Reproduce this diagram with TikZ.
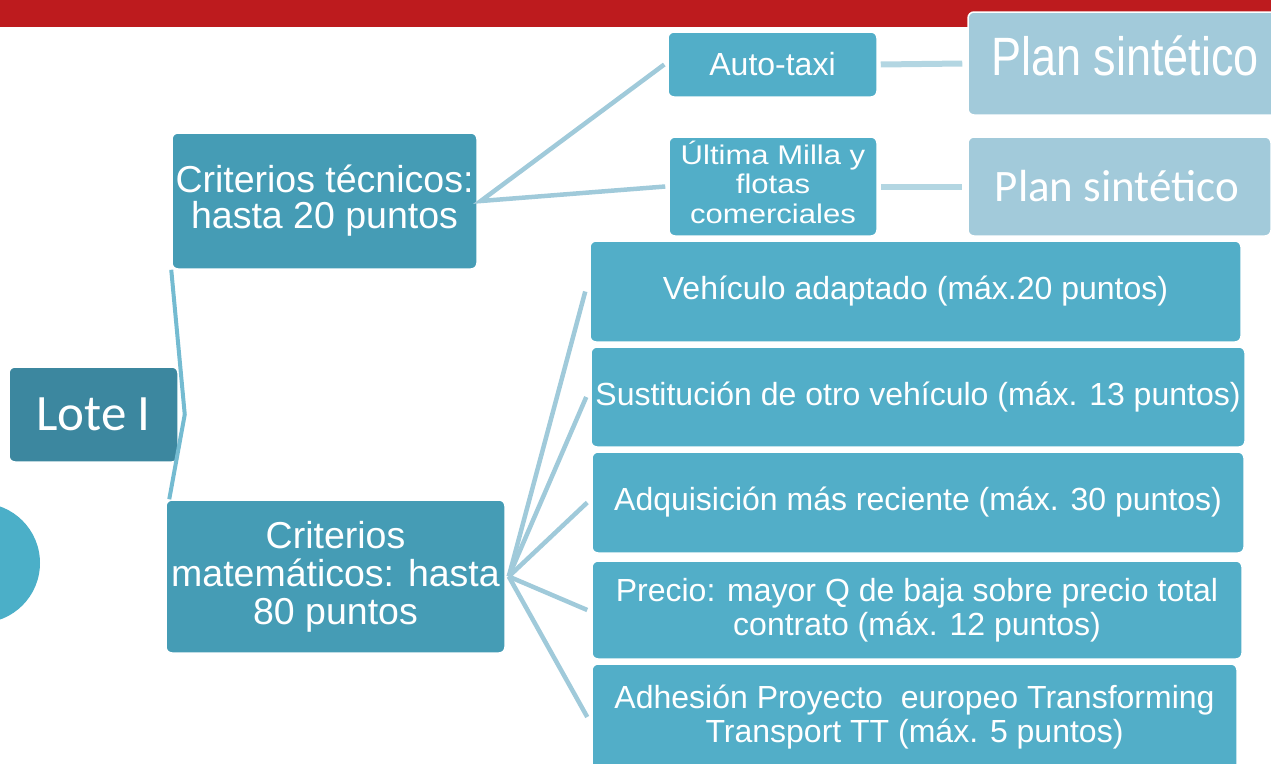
\documentclass[tikz,border=0pt]{standalone}
\usepackage{fontspec}
\usepackage{graphicx}
\setmainfont{Liberation Sans}
\newfontfamily\calfont{Carlito}
\definecolor{barred}{HTML}{BD1B1E}
\definecolor{lotec}{HTML}{3C879F}
\definecolor{critc}{HTML}{459CB5}
\definecolor{leafc}{HTML}{52AEC8}
\definecolor{planc}{HTML}{A2CADA}
\definecolor{circc}{HTML}{4BAFC8}
\definecolor{linea}{HTML}{74BBD1}
\definecolor{lineb}{HTML}{A0CADA}
\definecolor{linec}{HTML}{B3D6E2}
\newcommand{\mlines}[3]{\scalebox{#1}[#2]{\begin{tabular}{@{}c@{}}#3\end{tabular}}}
\begin{document}
\begin{tikzpicture}[x=1pt,y=-1pt,
  box/.style={draw=white, line width=1.5pt, rounded corners=6pt, text=white, inner sep=0pt, align=center},
  lotebox/.style={box, fill=lotec, font=\calfont\fontsize{51}{55}\selectfont},
  critbox/.style={box, fill=critc, font=\fontsize{37.5}{36}\selectfont},
  midbox/.style={box, fill=leafc, font=\fontsize{27}{29.5}\selectfont},
  leafbox/.style={box, fill=leafc, font=\fontsize{32}{34}\selectfont},
  planbox/.style={box, fill=planc},
  conA/.style={draw=linea, line width=4pt},
  conB/.style={draw=lineb, line width=4.5pt},
  conC/.style={draw=linec, line width=6pt}]
\useasboundingbox (0,0) rectangle (1271,763);
\begin{scope}
\clip (0,0) rectangle (1271,763);
% top bar
\fill[barred] (0,0) rectangle (1271,27);
% decorative circle at left
\fill[circc] (-20,563) circle[radius=60];
% nodes
\node[lotebox, minimum width=169pt, minimum height=95pt] (lote) at (93.5,414.5) {Lote I};
\node[critbox, minimum width=305pt, minimum height=136pt] (tec) at (324.5,201) {Criterios técnicos:\\hasta 20 puntos};
\node[critbox, minimum width=339pt, minimum height=153pt, font=\fontsize{37.5}{38}\selectfont] (mat) at (335.5,576.5) {Criterios\\matemáticos: hasta\\80 puntos};
\node[midbox, minimum width=209pt, minimum height=65pt, font=\fontsize{32}{34}\selectfont] (aut) at (772.5,64.5) {Auto-taxi};
\node[midbox, minimum width=208pt, minimum height=99pt] (ult) at (773,186.5) {\mlines{1.15}{1}{Última Milla y\\flotas\\comerciales}};
\node[planbox, minimum width=322pt, minimum height=103pt, font=\fontsize{45}{50}\selectfont] (plana) at (1129,63.5) {\hspace*{-8pt}\mlines{1}{1.2}{Plan sintético}};
\node[planbox, minimum width=303pt, minimum height=99pt, font=\calfont\fontsize{45}{50}\selectfont] (planb) at (1119.5,186.5) {\hspace*{-5pt}Plan sintético};
\node[leafbox, minimum width=651pt, minimum height=101pt] (veh) at (915.5,291.5) {Vehículo adaptado (máx.20 puntos)};
\node[leafbox, minimum width=654pt, minimum height=100pt] (sus) at (918,397) {Sustitución de otro vehículo (máx. 13 puntos)};
\node[leafbox, minimum width=652pt, minimum height=101pt] (adq) at (918,502.5) {Adquisición más reciente (máx. 30 puntos)};
\node[leafbox, minimum width=650pt, minimum height=98pt] (pre) at (917,610) {Precio: mayor Q de baja sobre precio total\\contrato (máx. 12 puntos)};
\node[leafbox, minimum width=645pt, minimum height=106pt] (adh) at (914.5,717) {Adhesión Proyecto\ \ europeo Transforming\\Transport TT (máx. 5 puntos)};
% connectors
\coordinate (lotetip) at ([xshift=6pt]lote.east);
\draw[conA] (tec.south west) -- (lotetip) -- ([xshift=4pt]mat.north west);
\coordinate (tectip) at ([xshift=3pt]tec.east);
\draw[conB] ([xshift=-3pt]aut.west) -- (tectip) -- ([xshift=-3pt]ult.west);
\coordinate (mattip) at ([xshift=3pt]mat.east);
\foreach \t in {veh,sus,adq,pre,adh}
  \draw[conB] (mattip) -- ([xshift=-4pt]\t.west);
\draw[conC] ([xshift=3pt]aut.east) -- ([xshift=-5pt]plana.west);
\draw[conC] ([xshift=3pt]ult.east) -- ([xshift=-5pt]planb.west);
\end{scope}
\end{tikzpicture}
\end{document}
